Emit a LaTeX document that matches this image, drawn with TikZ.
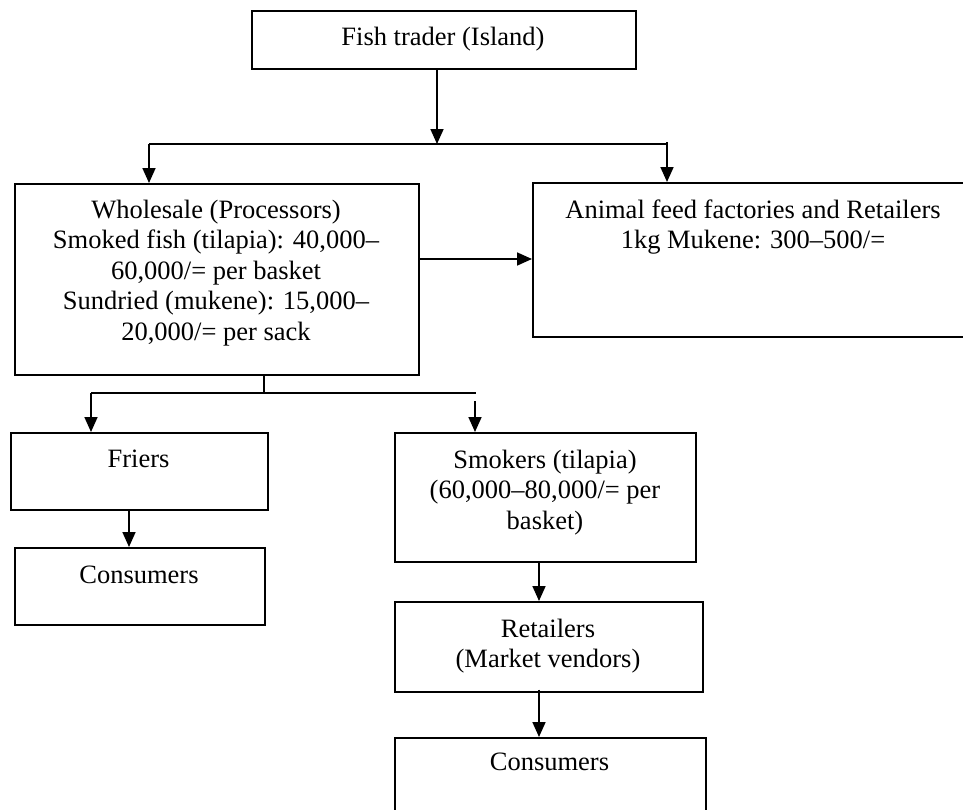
\documentclass[tikz,border=0pt]{standalone}
\usepackage{fontspec}
\setmainfont{Liberation Serif}
\usetikzlibrary{arrows.meta}
\newcommand\mylines[1]{\begin{tabular}[t]{@{}c@{}}#1\end{tabular}}
\begin{document}
\begin{tikzpicture}[x=1pt,y=-1pt,
  box/.style={draw,line width=1.7pt,inner sep=0pt,anchor=north west},
  lbl/.style={anchor=base,inner sep=0pt,font=\fontsize{26.5}{30.5}\selectfont},
  ln/.style={line width=1.7pt},
  arr/.style={line width=1.7pt,-{Triangle[length=15pt,width=13pt]}}]
\useasboundingbox (0,0) rectangle (963,809);
\clip (0,0) rectangle (963,809);
% boxes
\node[box,minimum width=384pt,minimum height=58pt] (trader) at (251,10) {};
\node[box,minimum width=404pt,minimum height=191pt] (whole) at (14,183) {};
\node[box,minimum width=442pt,minimum height=154pt] (feed) at (532,182) {};
\node[box,minimum width=257pt,minimum height=77pt] (friers) at (10,432) {};
\node[box,minimum width=250pt,minimum height=77pt] (consL) at (14,547) {};
\node[box,minimum width=301pt,minimum height=129pt] (smokers) at (394,432) {};
\node[box,minimum width=308pt,minimum height=90pt] (retail) at (394,601) {};
\node[box,minimum width=311pt,minimum height=100pt] (consR) at (394,737) {};
% texts
\node[lbl] (t-trader) at (443,45) {Fish trader (Island)};
\node[lbl] (t-whole) at (216,218) {\mylines{Wholesale (Processors)\\Smoked fish (tilapia): 40,000–\\60,000/= per basket\\Sundried (mukene): 15,000–\\20,000/= per sack}};
\node[lbl] (t-feed) at (753,218) {\mylines{Animal feed factories and Retailers\\1kg Mukene: 300–500/=}};
\node[lbl] (t-friers) at (138.5,467) {Friers};
\node[lbl] (t-consL) at (139,583) {Consumers};
\node[lbl] (t-smokers) at (545,468) {\mylines{Smokers (tilapia)\\(60,000–80,000/= per\\basket)}};
\node[lbl] (t-retail) at (548,637) {\mylines{Retailers\\(Market vendors)}};
\node[lbl] (t-consR) at (549.5,770) {Consumers};
% junction coordinates
\coordinate (j1) at (437,144);
\coordinate (j1l) at (149,144);
\coordinate (j1r) at (667,142);
\coordinate (j2) at (264,393);
\coordinate (j2l) at (91,393);
\coordinate (j2r) at (476,393);
\coordinate (j2s) at (475,401);
% connectors
\draw[arr] (trader.south -| j1) -- (j1);
\draw[ln] (j1l) -- (j1r |- j1l);
\draw[ln] (j1r |- j1l) -- (j1r);
\draw[arr] (j1l) -- (j1l |- whole.north);
\draw[arr] (j1r) -- (j1r |- feed.north);
\draw[arr] (whole.east |- 0,259) -- (feed.west |- 0,259);
\draw[ln] (whole.south -| j2) -- (j2);
\draw[ln] (j2l) -- (j2r);
\draw[arr] (j2l) -- (j2l |- friers.north);
\draw[arr] (j2s) -- (j2s |- smokers.north);
\draw[arr] (friers.south -| 129,0) -- (consL.north -| 129,0);
\draw[arr] (smokers.south -| 539,0) -- (retail.north -| 539,0);
\draw[arr] (retail.south -| 539,0) ++(0,-3) -- (consR.north -| 539,0);
\end{tikzpicture}
\end{document}
